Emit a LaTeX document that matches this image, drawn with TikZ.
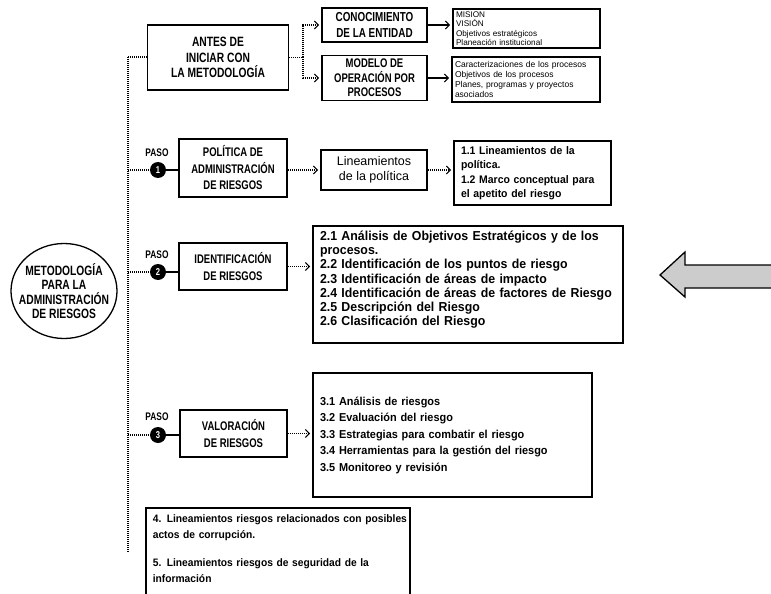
\documentclass[tikz,border=0pt]{standalone}
\usepackage{fontspec}
\setmainfont{Liberation Sans}
\newfontfamily\condfont[FakeStretch=0.76]{Liberation Sans}
\newfontfamily\bodyfont[FakeStretch=0.95]{Liberation Sans}
\usetikzlibrary{arrows.meta,shapes.geometric}
\begin{document}
\begin{tikzpicture}[x=1pt,y=-1pt,
  frame/.style={draw, line width=1.6pt, inner sep=0pt},
  headbox/.style={frame, align=center, font=\condfont\bfseries\fontsize{12}{16}\selectfont},
  textbox/.style={frame, align=left, inner xsep=7pt},
  dotline/.style={line width=1.4pt, dash pattern=on 1pt off 1pt},
  dotarrow/.style={dotline, shorten >=2pt, -{Straight Barb[length=4pt,width=8pt,line width=1.2pt]}},
  solarrow/.style={line width=1.4pt, shorten >=2pt, -{Straight Barb[length=4pt,width=8pt,line width=1.2pt]}},
  pasolabel/.style={font=\condfont\bfseries\fontsize{11}{11}\selectfont},
  stepdot/.style={circle, fill=black, minimum size=16pt, inner sep=0pt, text=white, font=\condfont\bfseries\fontsize{10}{10}\selectfont}]
\useasboundingbox (0,0) rectangle (771,594);

% left ellipse
\node[draw, ellipse, line width=1.3pt, minimum width=106pt, minimum height=95pt, inner sep=0pt] (met) at (64,291) {};
\node[align=center, inner sep=0pt, font=\condfont\bfseries\fontsize{13.5}{14.5}\selectfont] (mettext) at (met.center)
      {METODOLOG\'IA\\PARA LA\\ADMINISTRACI\'ON\\DE RIESGOS};

% top section
\node[headbox, minimum width=141pt, minimum height=65pt, font=\condfont\bfseries\fontsize{13.5}{15.5}\selectfont] (antes) at (218,57.5)
      {ANTES DE\\INICIAR CON\\LA METODOLOG\'IA};
\node[headbox, minimum width=105pt, minimum height=34pt, font=\condfont\bfseries\fontsize{13}{16}\selectfont] (conoc) at (374.5,25)
      {CONOCIMIENTO\\DE LA ENTIDAD};
\node[headbox, minimum width=105pt, minimum height=45pt, font=\condfont\bfseries\fontsize{12.5}{14.5}\selectfont] (modelo) at (374.5,78)
      {MODELO DE\\OPERACI\'ON POR\\PROCESOS};
\node[frame, align=left, inner xsep=3pt, text width=141pt, minimum height=39pt, font=\fontsize{8.2}{9.5}\selectfont] (mision) at (526.5,28.5)
      {MISION\\VISI\'ON\\Objetivos estrat\'egicos\\Planeaci\'on institucional};
\node[frame, align=left, inner xsep=3pt, text width=142pt, minimum height=45pt, font=\fontsize{8.5}{10}\selectfont] (proc) at (526,79.5)
      {Caracterizaciones de los procesos\\Objetivos de los procesos\\\makebox[\linewidth][s]{Planes, programas y proyectos}\\asociados};

% paso 1
\node[stepdot] (s1) at (158,170) {1};
\node[pasolabel] (p1) at (157,153) {PASO};
\node[headbox, minimum width=108pt, minimum height=58pt, font=\condfont\bfseries\fontsize{12.5}{16.5}\selectfont] (pol) at (233,168)
      {POL\'ITICA DE\\ADMINISTRACI\'ON\\DE RIESGOS};
\node[frame, minimum width=106pt, minimum height=40pt, align=center, font=\fontsize{12.5}{15}\selectfont] (lin) at (374,170)
      {Lineamientos\\de la pol\'itica};
\node[textbox, text width=143pt, minimum height=64pt, font=\bodyfont\bfseries\fontsize{11}{14.5}\selectfont] (l1) at (532.5,173)
      {1.1 Lineamientos de la\\pol\'itica.\\1.2 Marco conceptual para\\el apetito del riesgo};

% paso 2
\node[stepdot] (s2) at (158,272) {2};
\node[pasolabel] (p2) at (157,255) {PASO};
\node[headbox, minimum width=108pt, minimum height=47pt, font=\condfont\bfseries\fontsize{12.5}{17}\selectfont] (ident) at (233,266.5)
      {IDENTIFICACI\'ON\\DE RIESGOS};
\node[textbox, text width=296pt, minimum height=117pt, font=\bodyfont\bfseries\fontsize{13}{14.2}\selectfont] (b2) at (468,284.5)
      {2.1 An\'alisis de Objetivos Estrat\'egicos y de los\\procesos.\\2.2 Identificaci\'on de los puntos de riesgo\\2.3 Identificaci\'on de \'areas de impacto\\2.4 Identificaci\'on de \'areas de factores de Riesgo\\2.5 Descripci\'on del Riesgo\\2.6 Clasificaci\'on del Riesgo\\[-2pt]\mbox{}};

% paso 3
\node[stepdot] (s3) at (158,435) {3};
\node[pasolabel] (p3) at (157,417) {PASO};
\node[headbox, minimum width=107pt, minimum height=47pt, font=\condfont\bfseries\fontsize{12.5}{17}\selectfont] (val) at (233.5,433.5)
      {VALORACI\'ON\\DE RIESGOS};
\node[textbox, text width=265pt, minimum height=124pt, font=\bodyfont\bfseries\fontsize{11.5}{16.5}\selectfont] (b3) at (452.5,435)
      {3.1 An\'alisis de riesgos\\3.2 Evaluaci\'on del riesgo\\3.3 Estrategias para combatir el riesgo\\3.4 Herramientas para la gesti\'on del riesgo\\3.5 Monitoreo y revisi\'on};

% bottom
\node[textbox, anchor=north west, text width=250pt, inner ysep=7pt, font=\bodyfont\bfseries\fontsize{10.8}{15.5}\selectfont] (b4) at (145,507)
      {\mbox{4. Lineamientos riesgos relacionados con posibles}\\actos de corrupci\'on.\\[13pt]\makebox[\linewidth][s]{5. Lineamientos riesgos de seguridad de la}\\informaci\'on\\[-2pt]\mbox{}};

% big arrow
\draw[line width=1.3pt, fill=gray!40] (660,275) -- (685,252) -- (685,265) -- (776,265) -- (776,288) -- (685,288) -- (685,297) -- cycle;

% connectors
\coordinate (vtop) at (128,57);
\coordinate (vbot) at (128,553);
\draw[dotline] (vtop) -- (vbot);
\draw[dotline] (vtop) -- (vtop -| antes.west);
\coordinate (fork) at (303,57.5);
\draw[dotline] (antes.east) -- (fork);
\draw[dotarrow] (fork) |- (conoc.west);
\draw[dotarrow] (fork) |- (modelo.west);
\draw[solarrow] (conoc.east) -- (conoc.east -| mision.west);
\draw[solarrow] (modelo.east) -- (modelo.east -| proc.west);

\draw[dotline] (s1 -| vtop) -- (s1.west);
\draw[line width=1.6pt] (s1.east) -- (s1.east -| pol.west);
\draw[dotarrow] (pol.east |- lin.west) -- (lin.west);
\draw[dotarrow] (lin.east) -- (lin.east -| l1.west);

\draw[dotline] (s2 -| vtop) -- (s2.west);
\draw[line width=1.6pt] (s2.east) -- (s2.east -| ident.west);
\draw[dotarrow] (ident.east) -- (ident.east -| b2.west);

\draw[dotline] (s3 -| vtop) -- (s3.west);
\draw[line width=1.6pt] (s3.east) -- (s3.east -| val.west);
\draw[dotarrow] (val.east) -- (val.east -| b3.west);
\end{tikzpicture}
\end{document}
